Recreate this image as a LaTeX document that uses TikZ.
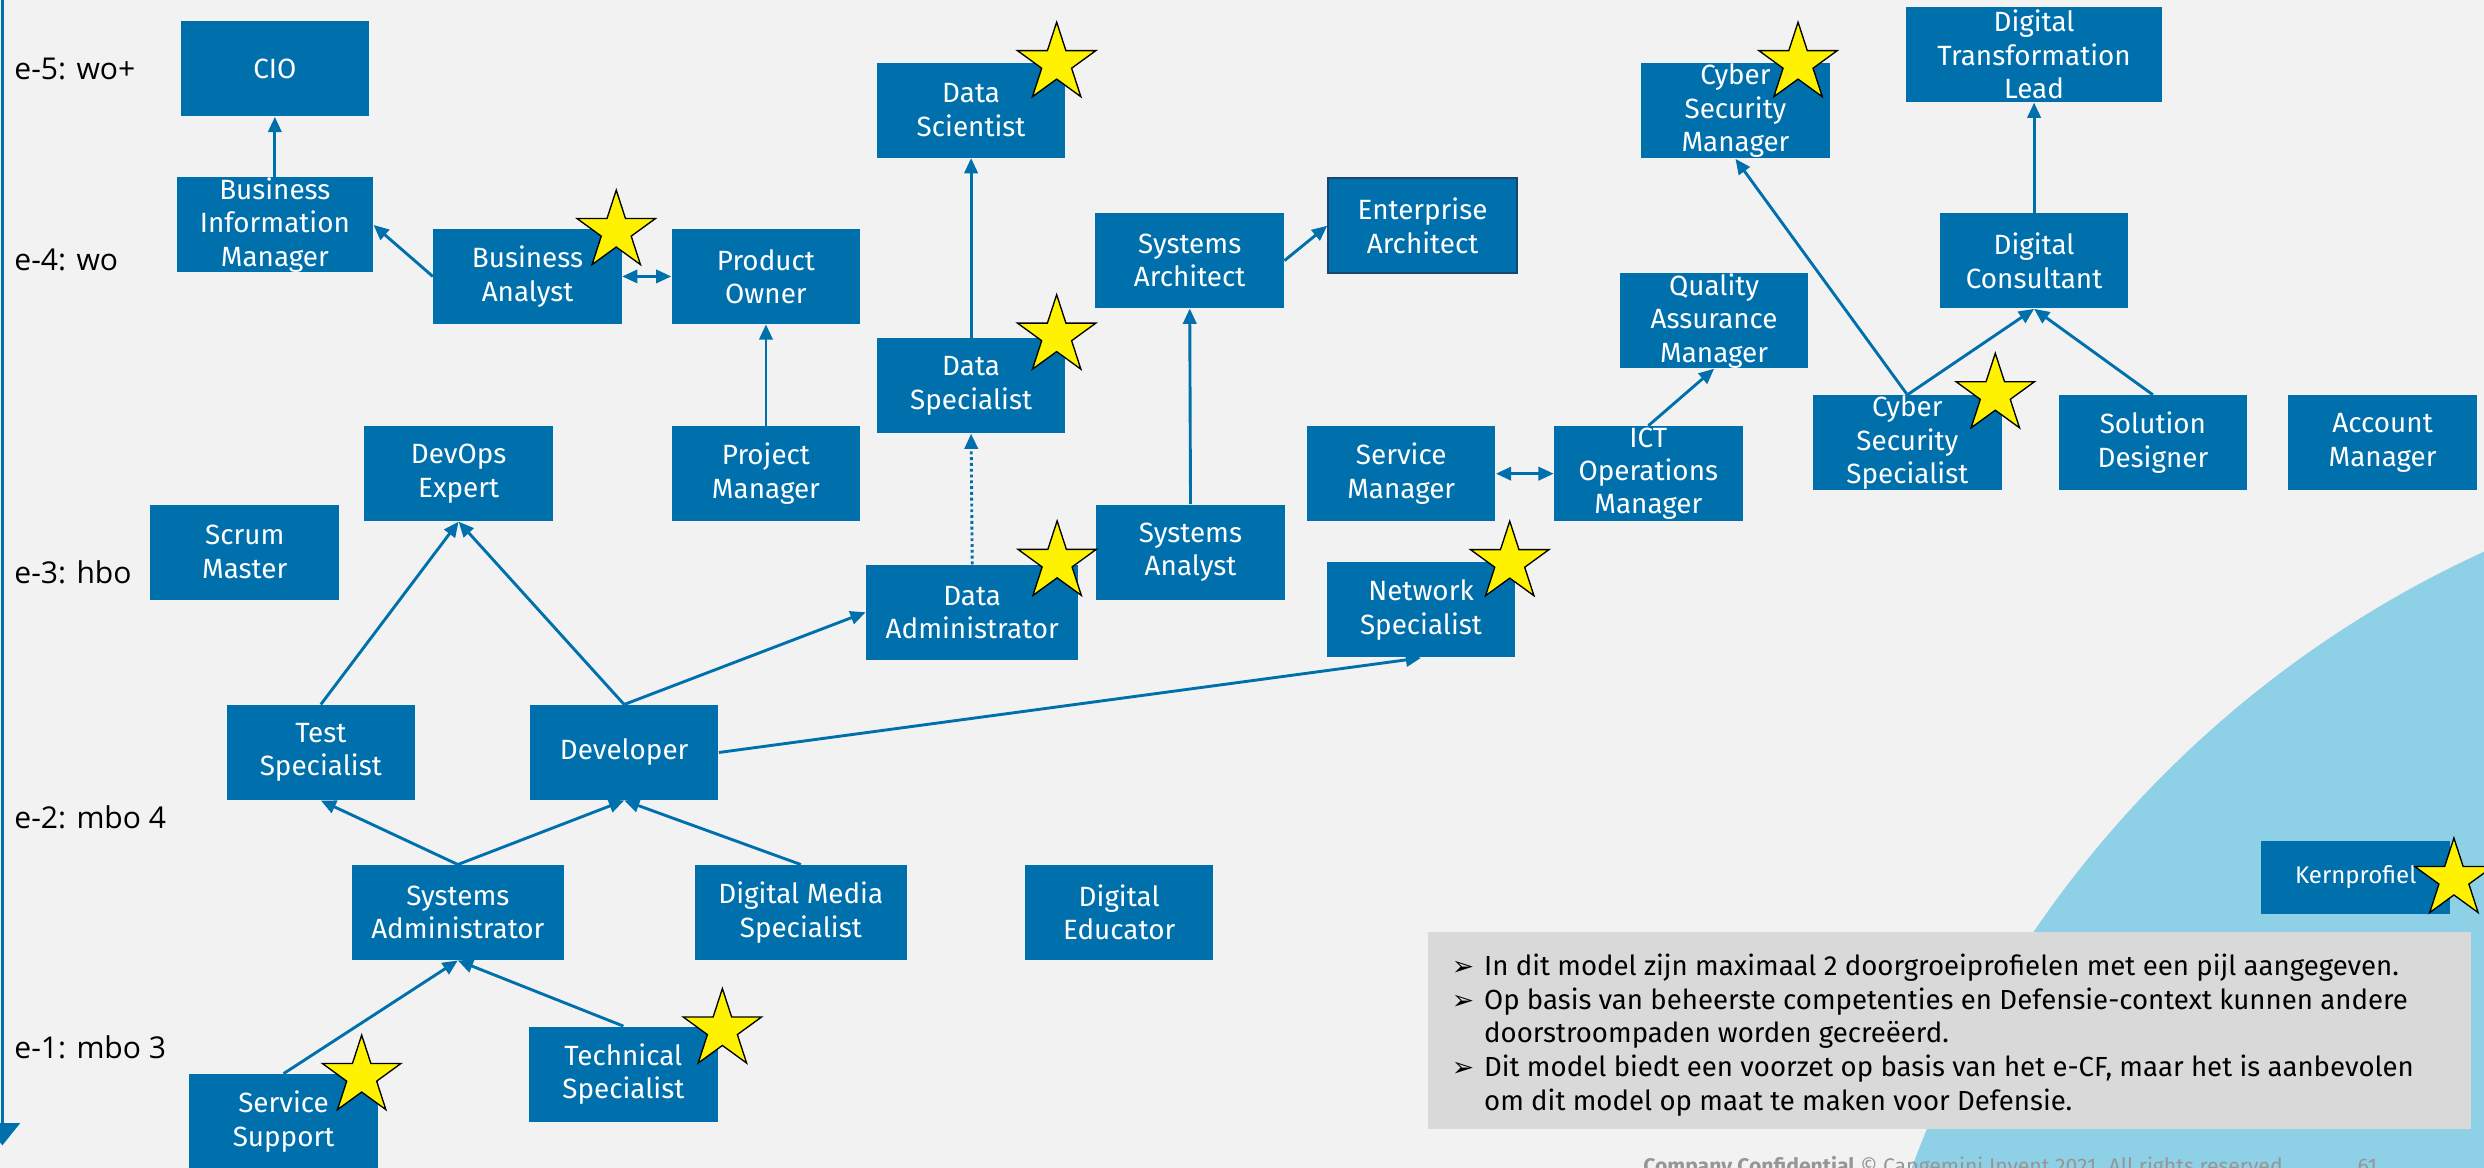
\documentclass[tikz,border=0pt]{standalone}
\usepackage{fontspec}
\setmainfont{Fira Sans}
\newfontfamily\levelface{Open Sans}
\newfontfamily\dingface{DejaVu Sans}
\usepackage{tikz}
\usetikzlibrary{shapes.geometric, arrows.meta, calc}

\definecolor{capblue}{RGB}{0,112,173}
\definecolor{pagebg}{RGB}{242,242,242}
\definecolor{notegray}{RGB}{217,217,217}
\definecolor{circleblue}{RGB}{142,209,231}
\definecolor{footgray}{RGB}{150,150,150}
\definecolor{eaborder}{RGB}{25,70,110}

\newcommand{\boxfont}{\fontsize{12.5}{15}\selectfont}
\newcommand{\noteface}{\fontsize{12.4}{15.1}\selectfont}
\newcommand{\notebullet}{\makebox[5.1mm][l]{\dingface\fontsize{12}{12}\selectfont ➢}}

\tikzset{
  role/.style={fill=capblue, text=white, font=\boxfont, align=center,
    minimum width=29.75mm, minimum height=15mm, inner sep=0pt},
  widerole/.style={role, minimum width=33.5mm},
  kstar/.style={star, star points=5, star point ratio=2.618, minimum size=13mm,
    inner sep=0pt, fill=yellow, draw=black, line width=0.6pt},
  pathway/.style={draw=capblue, line width=1.3pt, -{Triangle[length=2.4mm,width=2.1mm]}},
  pathboth/.style={pathway, {Triangle[length=2.4mm,width=2.1mm]}-{Triangle[length=2.4mm,width=2.1mm]}},
  eband/.style={font=\levelface\fontsize{13.5}{16}\selectfont, anchor=west, inner sep=0pt},
  notebox/.style={fill=notegray, minimum width=164.7mm, minimum height=31.15mm, inner sep=0pt},
  notetext/.style={font=\noteface, inner sep=0pt, align=left},
  footer/.style={font=\fontsize{9.5}{11}\selectfont, text=footgray, inner sep=0pt}
}

\begin{document}
\begin{tikzpicture}[x=0.25mm, y=0.25mm]
  \useasboundingbox (0,0) rectangle (1568,-737);
  % Background
  \fill[pagebg] (0,0) rectangle (1568,-737);
  \fill[circleblue] (1855,-977) circle (691);

  % Level axis on the left
  \coordinate (axistop) at (1.5,0);
  \coordinate (axisend) at (1.5,-723);
  \draw[capblue, line width=1.4pt, -{Triangle[length=3.5mm,width=5.5mm]}] (axistop) -- (axisend);
  \foreach \lbl/\ly [count=\i] in {e-5: wo+/43.5, e-4: wo/164, e-3: hbo/361, e-2: mbo 4/516, e-1: mbo 3/661}
    \node[eband] (band\i) at (8.8,-\ly) {\lbl};

  % Note box
  \node[notebox] (note) at (1230.65,-650.5) {};
  \node[notetext, anchor=north west] (notetxt) at ($(note.north west)+(15.2,-12.8)$) {%
    \begin{tabular}{@{}l@{}l@{}}
      \notebullet & In dit model zijn maximaal 2 doorgroeiprofielen met een pijl aangegeven.\\
      \notebullet & Op basis van beheerste competenties en Defensie-context kunnen andere\\
       & doorstroompaden worden gecreëerd.\\
      \notebullet & Dit model biedt een voorzet op basis van het e-CF, maar het is aanbevolen\\
       & om dit model op maat te maken voor Defensie.
    \end{tabular}};

  % Footer
  \node[footer, anchor=base west] (foot) at (1037,-740.6) {\textbf{Company Confidential} © Capgemini Invent 2021. All rights reserved};
  \node[footer, anchor=base west] (pagenr) at (1488,-740.6) {61};

  % e-5
  \node[role] (cio) at (173.5,-43.5) {CIO};
  \node[role] (dsc) at (613,-69.5) {Data\\Scientist};
  \node[role] (csm) at (1095.5,-70) {Cyber\\Security\\Manager};
  \node[role, minimum width=40.5mm] (dtl) at (1284,-34.5) {Digital\\Transformation\\Lead};

  % e-4
  \node[role, minimum width=31mm] (bim) at (173.5,-142) {Business\\Information\\Manager};
  \node[role] (ba) at (333,-174.5) {Business\\Analyst};
  \node[role] (po) at (483.5,-174.5) {Product\\Owner};
  \node[role] (sarch) at (751,-164.5) {Systems\\Architect};
  \node[role, draw=eaborder, line width=1pt] (ea) at (898,-142.5) {Enterprise\\Architect};
  \node[role] (dc) at (1284,-164.7) {Digital\\Consultant};
  \node[role] (qam) at (1082,-202.5) {Quality\\Assurance\\Manager};
  \node[role] (dsp) at (613,-243.5) {Data\\Specialist};

  % e-3
  \node[role] (devops) at (289.5,-299) {DevOps\\Expert};
  \node[role] (pm) at (483.5,-299) {Project\\Manager};
  \node[role] (sm) at (884.5,-299) {Service\\Manager};
  \node[role] (ict) at (1040.5,-299) {ICT\\Operations\\Manager};
  \node[role] (css) at (1204,-279.5) {Cyber\\Security\\Specialist};
  \node[role] (sd) at (1359,-279.5) {Solution\\Designer};
  \node[role] (am) at (1504,-279.5) {Account\\Manager};
  \node[role] (scrum) at (154.5,-348.5) {Scrum\\Master};
  \node[role] (san) at (751.5,-348.5) {Systems\\Analyst};
  \node[widerole] (dadm) at (613.7,-386.5) {Data\\Administrator};
  \node[role] (ns) at (897,-385) {Network\\Specialist};

  % e-2
  \node[role] (ts) at (202.5,-475) {Test\\Specialist};
  \node[role] (dev) at (394,-475) {Developer};
  \node[widerole] (sadm) at (289,-576) {Systems\\Administrator};
  \node[widerole] (dms) at (505.5,-576) {Digital Media\\Specialist};
  \node[role] (de) at (706.5,-576) {Digital\\Educator};

  % e-1
  \node[role] (tsp) at (393.5,-678) {Technical\\Specialist};
  \node[role] (ss) at (179,-708) {Service\\Support};

  % Legend
  \node[role, minimum height=11.5mm, font=\fontsize{10.8}{13}\selectfont] (kern) at (1487,-553.7) {Kernprofiel};

  % Growth paths
  \draw[pathway] (bim.north) -- (cio.south);
  \draw[pathway] (ba.west) -- (bim.east);
  \draw[pathboth] (ba.east) -- (po.west);
  \draw[pathway] (pm.north) -- (po.south);
  \draw[pathway] (dsp.north) -- (dsc.south);
  \draw[pathway, dash pattern=on 1.3pt off 1.3pt] (dadm.north) -- (dsp.south);
  \draw[pathway] (san.north) -- (sarch.south);
  \draw[pathway] (sarch.east) -- (ea.west);
  \draw[pathway] (css.north) -- (csm.south);
  \draw[pathway] (css.north) -- (dc.south);
  \draw[pathway] (sd.north) -- (dc.south);
  \draw[pathway] (dc.north) -- (dtl.south);
  \draw[pathway] (ict.north) -- (qam.south);
  \draw[pathboth] (sm.east) -- (ict.west);
  \draw[pathway] (ts.north) -- (devops.south);
  \draw[pathway] (dev.north) -- (devops.south);
  \draw[pathway] (dev.north) -- (dadm.west);
  \draw[pathway] (dev.east) -- (ns.south);
  \draw[pathway] (sadm.north) -- (ts.south);
  \draw[pathway] (sadm.north) -- (dev.south);
  \draw[pathway] (dms.north) -- (dev.south);
  \draw[pathway] (ss.north) -- (sadm.south);
  \draw[pathway] (tsp.north) -- (sadm.south);

  % Core profile stars
  \foreach \sx/\sy [count=\i] in {667/40, 389/146, 667/212, 667.3/354.8, 953/355,
      1135/40, 1259.5/249, 456/650, 228.3/679.4, 1549/555}
    \node[kstar] (star\i) at (\sx,-\sy) {};
\end{tikzpicture}
\end{document}
